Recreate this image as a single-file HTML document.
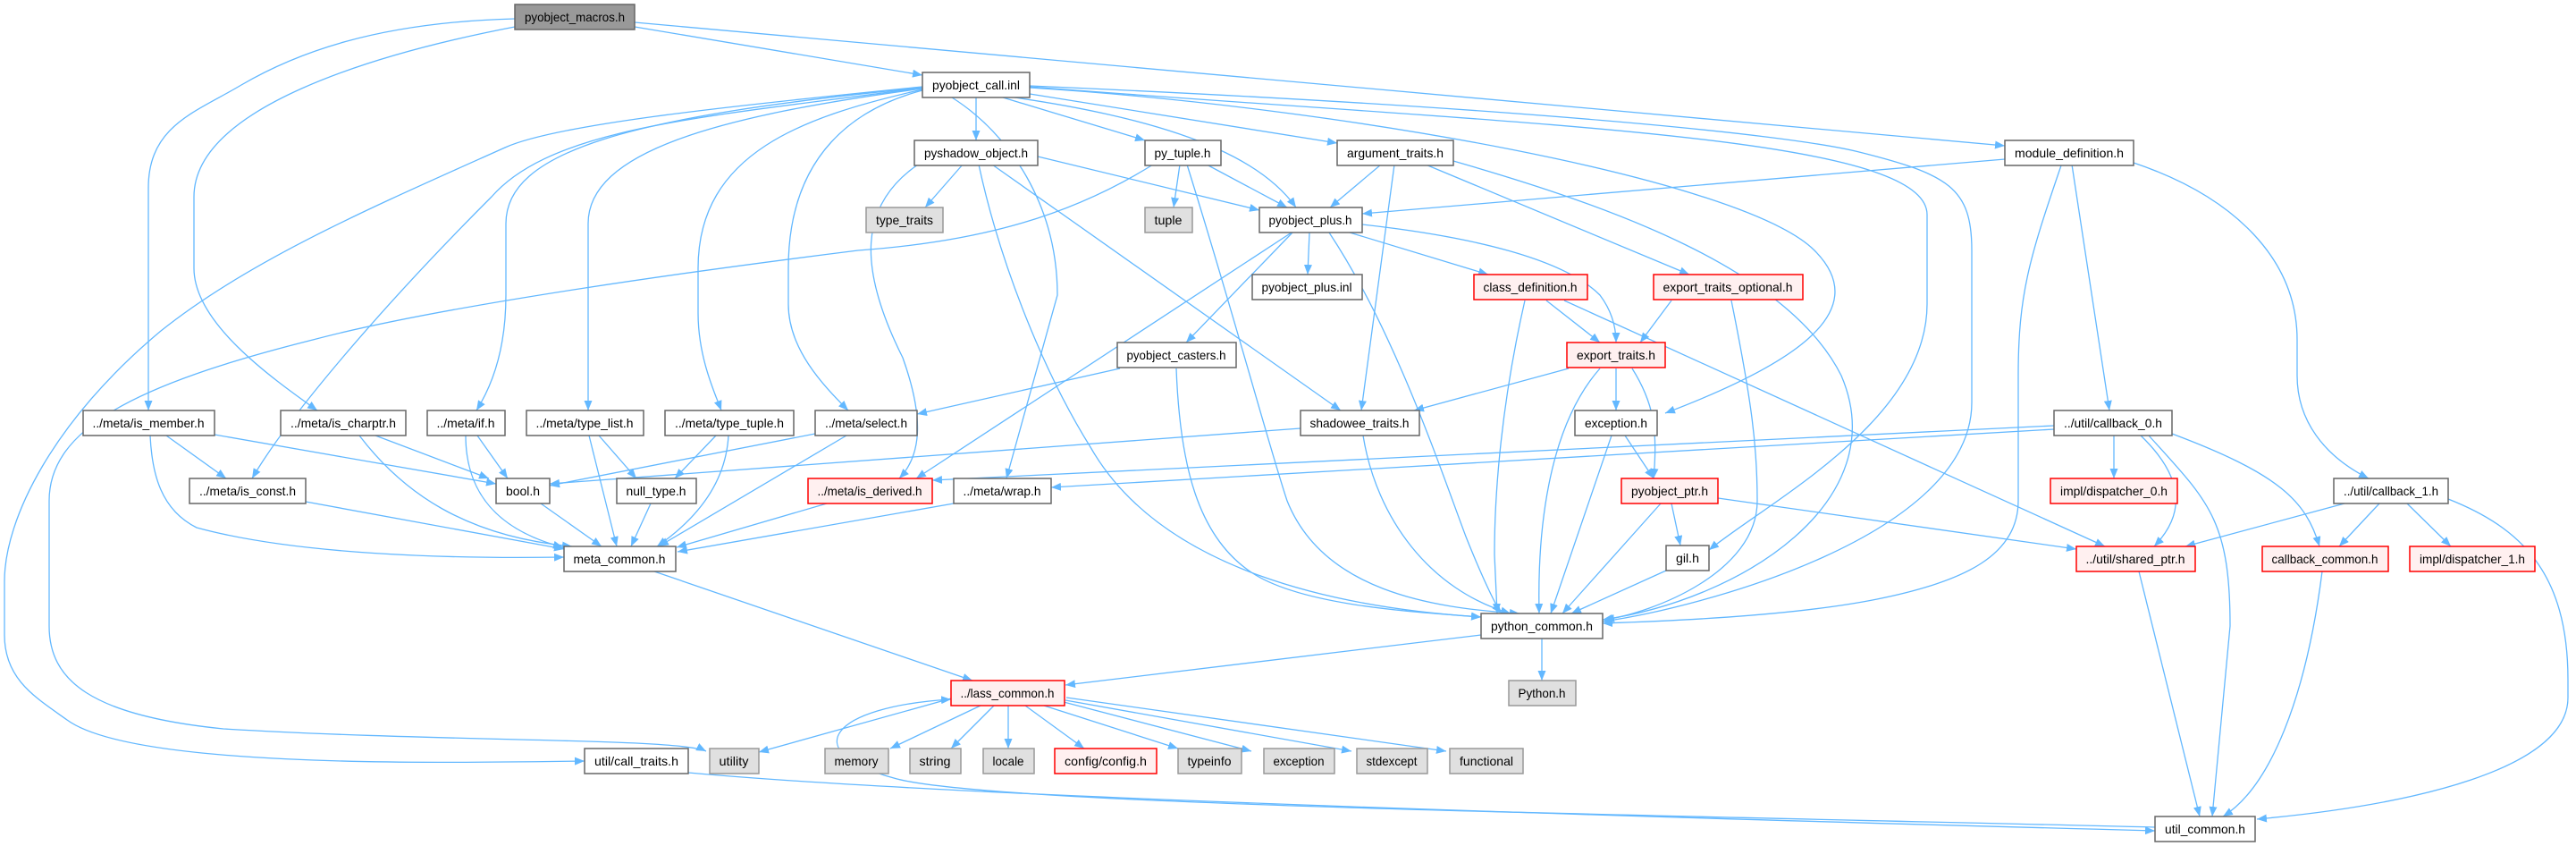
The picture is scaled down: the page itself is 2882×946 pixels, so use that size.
<!DOCTYPE html>
<html><head><meta charset="utf-8"><style>
html,body{margin:0;padding:0;background:#fff;}
svg{display:block}
text{font-family:"Liberation Sans",sans-serif;font-size:14px;fill:#000}
.e{fill:none;stroke:#63b8ff;stroke-width:1.3}
.n rect{fill:#fff;stroke:#666;stroke-width:1.5}
.g rect{fill:#e0e0e0;stroke:#999;stroke-width:1.5}
.r rect{fill:#fff0f0;stroke:#f00;stroke-width:1.5}
.m rect{fill:#999;stroke:#666;stroke-width:1.5}
</style></head><body>
<svg width="2882" height="946" viewBox="0 0 2882 946" xmlns="http://www.w3.org/2000/svg">
<defs><marker id="a" markerUnits="userSpaceOnUse" markerWidth="12" markerHeight="9" refX="11" refY="4.5" orient="auto"><path d="M0,0 L11,4.5 L0,9 z" fill="#63b8ff"/></marker></defs>
<g class="e" marker-end="url(#a)">
<!-- pyobject_macros -->
<path d="M710,30 L1032,84"/>
<path d="M710,25 L2243,163"/>
<path d="M576,21 C420,25 330,60 270,95 C220,125 166,140 166,210 L166,459"/>
<path d="M576,30 C420,60 217,120 217,220 L217,300 C217,360 300,420 355,459"/>
<!-- pyobject_call -->
<path d="M1092,109 L1092,157"/>
<path d="M1122,109 L1281,157"/>
<path d="M1152,105 L1496,160"/>
<path d="M1135,109 C1350,140 1420,190 1450,232"/>
<path d="M1152,98 C1500,120 1950,200 2030,280 C2100,350 2000,410 1863,462"/>
<path d="M1152,97 C1700,140 2156,150 2156,240 L2156,340 C2156,470 1980,560 1912,615"/>
<path d="M1152,96 C1700,120 2000,150 2080,170 C2180,195 2206,210 2206,280 L2206,450 C2206,600 1900,680 1793,695"/>
<path d="M1065,109 C1130,150 1183,230 1183,330 L1126,535"/>
<path d="M1032,101 C960,120 882,170 882,300 L882,340 C882,390 920,430 949,459"/>
<path d="M1032,100 C900,130 781,170 781,300 L781,350 C781,400 800,440 807,459"/>
<path d="M1032,99 C800,130 658,170 658,250 L658,459"/>
<path d="M1032,98 C700,130 566,170 566,250 L566,330 C566,400 545,440 533,459"/>
<path d="M1032,98 C800,130 620,140 550,220 C420,350 320,470 282,535"/>
<path d="M1032,97 C800,120 620,140 565,165 C420,230 280,290 180,370 C60,470 5,580 5,650 L5,710 C5,760 40,780 75,805 C150,860 500,853 654,851"/>
<!-- py_tuple -->
<path d="M1320,184 L1313,232"/>
<path d="M1350,184 L1440,232"/>
<path d="M1328,184 C1380,350 1420,500 1440,560 C1480,660 1600,680 1700,686"/>
<path d="M1290,184 C1200,240 1100,270 960,280 C800,300 500,340 350,380 C150,430 55,480 55,560 L55,700 C55,760 100,800 250,815 C500,830 760,825 790,840"/>
<!-- pyshadow_object -->
<path d="M1077,184 L1035,232"/>
<path d="M1161,175 L1409,235"/>
<path d="M1110,184 L1500,459"/>
<path d="M1027,184 C960,230 960,300 1010,400 C1035,470 1030,510 1006,535"/>
<path d="M1095,184 C1120,300 1170,420 1220,500 C1300,640 1500,680 1657,690"/>
<!-- argument_traits -->
<path d="M1545,184 L1488,232"/>
<path d="M1560,184 L1523,459"/>
<path d="M1595,184 L1890,307"/>
<path d="M1626,180 C1800,230 2000,300 2060,420 C2120,560 1950,670 1793,693"/>
<!-- module_definition -->
<path d="M2243,178 L1524,239"/>
<path d="M2306,185 C2270,290 2258,330 2258,420 L2258,560 C2258,620 2200,650 2100,670 C2000,690 1850,695 1793,697"/>
<path d="M2318,184 L2360,459"/>
<path d="M2387,182 C2500,220 2570,290 2570,380 L2570,420 C2570,470 2600,510 2650,535"/>
<!-- pyobject_plus -->
<path d="M1465,260 L1463,307"/>
<path d="M1510,260 L1665,307"/>
<path d="M1524,251 C1650,265 1750,290 1790,330 C1805,350 1808,370 1808,383"/>
<path d="M1446,260 L1327,383"/>
<path d="M1445,260 L1025,535"/>
<path d="M1487,260 C1560,370 1610,520 1640,600 C1660,650 1675,680 1680,686"/>
<!-- class_definition -->
<path d="M1730,336 L1790,383"/>
<path d="M1706,336 C1680,450 1672,550 1672,620 L1675,686"/>
<path d="M1750,336 L2355,611"/>
<!-- export_traits_optional -->
<path d="M1870,336 L1835,383"/>
<path d="M1937,336 C1960,450 1966,500 1966,560 C1966,640 1850,685 1795,693"/>
<!-- export_traits -->
<path d="M1755,412 L1582,459"/>
<path d="M1808,412 L1808,459"/>
<path d="M1826,412 C1850,450 1855,480 1850,535"/>
<path d="M1790,412 C1730,480 1720,600 1722,686"/>
<!-- casters -->
<path d="M1253,412 L1026,463"/>
<path d="M1316,412 C1320,520 1340,600 1400,640 C1460,680 1600,685 1657,690"/>
<!-- shadowee -->
<path d="M1455,479 L615,541"/>
<path d="M1525,487 C1540,580 1600,660 1690,686"/>
<!-- exception -->
<path d="M1818,487 L1850,535"/>
<path d="M1803,487 L1735,686"/>
<!-- pyobject_ptr -->
<path d="M1870,563 L1880,610"/>
<path d="M1858,563 L1748,686"/>
<path d="M1922,557 L2323,614"/>
<!-- gil -->
<path d="M1864,638 L1758,686"/>
<!-- callback_0 -->
<path d="M2298,476 L1043,537"/>
<path d="M2298,480 L1176,545"/>
<path d="M2365,487 L2365,535"/>
<path d="M2395,487 C2450,540 2440,580 2410,611"/>
<path d="M2404,487 C2470,560 2495,580 2495,700 L2475,913"/>
<path d="M2430,485 C2550,530 2580,560 2595,611"/>
<!-- callback_1 -->
<path d="M2623,563 L2445,611"/>
<path d="M2662,563 L2617,611"/>
<path d="M2693,563 L2742,611"/>
<path d="M2739,558 C2820,590 2873,640 2873,760 L2873,780 C2873,860 2700,900 2525,916"/>
<!-- shared_ptr/callback_common -> util_common -->
<path d="M2393,639 L2461,913"/>
<path d="M2598,639 C2580,780 2540,880 2487,913"/>
<!-- meta -->
<path d="M186,487 L253,535"/>
<path d="M240,486 L555,541"/>
<path d="M168,487 C170,530 180,570 220,590 C330,620 500,625 631,623"/>
<path d="M420,487 L547,535"/>
<path d="M402,487 C450,550 520,600 640,611"/>
<path d="M534,487 L568,535"/>
<path d="M521,487 C521,540 545,590 630,612"/>
<path d="M670,487 L712,535"/>
<path d="M659,487 L690,611"/>
<path d="M801,487 L755,535"/>
<path d="M815,487 C812,540 780,580 735,611"/>
<path d="M912,485 L615,543"/>
<path d="M947,487 L737,611"/>
<path d="M342,561 L631,614"/>
<path d="M605,563 L673,611"/>
<path d="M728,563 L706,611"/>
<path d="M925,563 L757,612"/>
<path d="M1067,563 L758,617"/>
<path d="M732,639 L1088,761"/>
<!-- python_common -->
<path d="M1657,710 L1192,766"/>
<path d="M1725,714 L1725,761"/>
<!-- lass_common -->
<path d="M1097,789 L996,837"/>
<path d="M1112,789 L1064,837"/>
<path d="M1128,789 L1128,837"/>
<path d="M1147,789 L1213,837"/>
<path d="M1168,789 L1318,837"/>
<path d="M1190,785 L1400,840"/>
<path d="M1192,783 L1512,840"/>
<path d="M1193,780 L1618,840"/>
<path d="M1064,781 L849,841"/>
<!-- call_traits / util_common -->
<path d="M770,864 C1000,885 1500,905 2411,929"/>
<path d="M2411,925 C1800,910 1100,900 1000,870 C890,840 930,790 1064,782"/>
</g>
<g class="m"><rect x="576" y="5" width="134" height="28"/><text x="643" y="24" text-anchor="middle" textLength="112" lengthAdjust="spacingAndGlyphs">pyobject_macros.h</text></g>
<g class="n"><rect x="1032" y="81" width="120" height="28"/><text x="1092" y="100" text-anchor="middle" textLength="98" lengthAdjust="spacingAndGlyphs">pyobject_call.inl</text></g>
<g class="n"><rect x="1023" y="157" width="138" height="28"/><text x="1092" y="176" text-anchor="middle" textLength="116" lengthAdjust="spacingAndGlyphs">pyshadow_object.h</text></g>
<g class="n"><rect x="1281" y="157" width="85" height="28"/><text x="1323" y="176" text-anchor="middle" textLength="63" lengthAdjust="spacingAndGlyphs">py_tuple.h</text></g>
<g class="n"><rect x="1496" y="157" width="130" height="28"/><text x="1561" y="176" text-anchor="middle" textLength="108" lengthAdjust="spacingAndGlyphs">argument_traits.h</text></g>
<g class="n"><rect x="2243" y="157" width="144" height="28"/><text x="2315" y="176" text-anchor="middle" textLength="122" lengthAdjust="spacingAndGlyphs">module_definition.h</text></g>
<g class="g"><rect x="969" y="232" width="86" height="28"/><text x="1012" y="251" text-anchor="middle" textLength="64" lengthAdjust="spacingAndGlyphs">type_traits</text></g>
<g class="g"><rect x="1281" y="232" width="53" height="28"/><text x="1307" y="251" text-anchor="middle" textLength="31" lengthAdjust="spacingAndGlyphs">tuple</text></g>
<g class="n"><rect x="1409" y="232" width="115" height="28"/><text x="1466" y="251" text-anchor="middle" textLength="93" lengthAdjust="spacingAndGlyphs">pyobject_plus.h</text></g>
<g class="n"><rect x="1401" y="307" width="123" height="28"/><text x="1462" y="326" text-anchor="middle" textLength="101" lengthAdjust="spacingAndGlyphs">pyobject_plus.inl</text></g>
<g class="r"><rect x="1649" y="307" width="127" height="28"/><text x="1712" y="326" text-anchor="middle" textLength="105" lengthAdjust="spacingAndGlyphs">class_definition.h</text></g>
<g class="r"><rect x="1850" y="307" width="167" height="28"/><text x="1933" y="326" text-anchor="middle" textLength="145" lengthAdjust="spacingAndGlyphs">export_traits_optional.h</text></g>
<g class="n"><rect x="1250" y="383" width="133" height="28"/><text x="1316" y="402" text-anchor="middle" textLength="111" lengthAdjust="spacingAndGlyphs">pyobject_casters.h</text></g>
<g class="r"><rect x="1753" y="383" width="110" height="28"/><text x="1808" y="402" text-anchor="middle" textLength="88" lengthAdjust="spacingAndGlyphs">export_traits.h</text></g>
<g class="n"><rect x="93" y="459" width="147" height="28"/><text x="166" y="478" text-anchor="middle" textLength="125" lengthAdjust="spacingAndGlyphs">../meta/is_member.h</text></g>
<g class="n"><rect x="314" y="459" width="140" height="28"/><text x="384" y="478" text-anchor="middle" textLength="118" lengthAdjust="spacingAndGlyphs">../meta/is_charptr.h</text></g>
<g class="n"><rect x="478" y="459" width="87" height="28"/><text x="521" y="478" text-anchor="middle" textLength="65" lengthAdjust="spacingAndGlyphs">../meta/if.h</text></g>
<g class="n"><rect x="589" y="459" width="131" height="28"/><text x="654" y="478" text-anchor="middle" textLength="109" lengthAdjust="spacingAndGlyphs">../meta/type_list.h</text></g>
<g class="n"><rect x="744" y="459" width="144" height="28"/><text x="816" y="478" text-anchor="middle" textLength="122" lengthAdjust="spacingAndGlyphs">../meta/type_tuple.h</text></g>
<g class="n"><rect x="912" y="459" width="114" height="28"/><text x="969" y="478" text-anchor="middle" textLength="92" lengthAdjust="spacingAndGlyphs">../meta/select.h</text></g>
<g class="n"><rect x="1455" y="459" width="133" height="28"/><text x="1521" y="478" text-anchor="middle" textLength="111" lengthAdjust="spacingAndGlyphs">shadowee_traits.h</text></g>
<g class="n"><rect x="1762" y="459" width="92" height="28"/><text x="1808" y="478" text-anchor="middle" textLength="70" lengthAdjust="spacingAndGlyphs">exception.h</text></g>
<g class="n"><rect x="2298" y="459" width="132" height="28"/><text x="2364" y="478" text-anchor="middle" textLength="110" lengthAdjust="spacingAndGlyphs">../util/callback_0.h</text></g>
<g class="n"><rect x="212" y="535" width="130" height="28"/><text x="277" y="554" text-anchor="middle" textLength="108" lengthAdjust="spacingAndGlyphs">../meta/is_const.h</text></g>
<g class="n"><rect x="555" y="535" width="60" height="28"/><text x="585" y="554" text-anchor="middle" textLength="38" lengthAdjust="spacingAndGlyphs">bool.h</text></g>
<g class="n"><rect x="690" y="535" width="89" height="28"/><text x="734" y="554" text-anchor="middle" textLength="67" lengthAdjust="spacingAndGlyphs">null_type.h</text></g>
<g class="r"><rect x="904" y="535" width="139" height="28"/><text x="973" y="554" text-anchor="middle" textLength="117" lengthAdjust="spacingAndGlyphs">../meta/is_derived.h</text></g>
<g class="n"><rect x="1067" y="535" width="109" height="28"/><text x="1121" y="554" text-anchor="middle" textLength="87" lengthAdjust="spacingAndGlyphs">../meta/wrap.h</text></g>
<g class="r"><rect x="1814" y="535" width="108" height="28"/><text x="1868" y="554" text-anchor="middle" textLength="86" lengthAdjust="spacingAndGlyphs">pyobject_ptr.h</text></g>
<g class="r"><rect x="2294" y="535" width="142" height="28"/><text x="2365" y="554" text-anchor="middle" textLength="120" lengthAdjust="spacingAndGlyphs">impl/dispatcher_0.h</text></g>
<g class="n"><rect x="2611" y="535" width="128" height="28"/><text x="2675" y="554" text-anchor="middle" textLength="106" lengthAdjust="spacingAndGlyphs">../util/callback_1.h</text></g>
<g class="n"><rect x="631" y="611" width="125" height="28"/><text x="693" y="630" text-anchor="middle" textLength="103" lengthAdjust="spacingAndGlyphs">meta_common.h</text></g>
<g class="n"><rect x="1864" y="610" width="48" height="28"/><text x="1888" y="629" text-anchor="middle" textLength="26" lengthAdjust="spacingAndGlyphs">gil.h</text></g>
<g class="r"><rect x="2323" y="611" width="133" height="28"/><text x="2389" y="630" text-anchor="middle" textLength="111" lengthAdjust="spacingAndGlyphs">../util/shared_ptr.h</text></g>
<g class="r"><rect x="2531" y="611" width="141" height="28"/><text x="2601" y="630" text-anchor="middle" textLength="119" lengthAdjust="spacingAndGlyphs">callback_common.h</text></g>
<g class="r"><rect x="2696" y="611" width="140" height="28"/><text x="2766" y="630" text-anchor="middle" textLength="118" lengthAdjust="spacingAndGlyphs">impl/dispatcher_1.h</text></g>
<g class="n"><rect x="1657" y="686" width="136" height="28"/><text x="1725" y="705" text-anchor="middle" textLength="114" lengthAdjust="spacingAndGlyphs">python_common.h</text></g>
<g class="r"><rect x="1064" y="761" width="127" height="28"/><text x="1127" y="780" text-anchor="middle" textLength="105" lengthAdjust="spacingAndGlyphs">../lass_common.h</text></g>
<g class="g"><rect x="1688" y="761" width="75" height="28"/><text x="1725" y="780" text-anchor="middle" textLength="53" lengthAdjust="spacingAndGlyphs">Python.h</text></g>
<g class="n"><rect x="654" y="837" width="116" height="28"/><text x="712" y="856" text-anchor="middle" textLength="94" lengthAdjust="spacingAndGlyphs">util/call_traits.h</text></g>
<g class="g"><rect x="794" y="837" width="55" height="28"/><text x="821" y="856" text-anchor="middle" textLength="33" lengthAdjust="spacingAndGlyphs">utility</text></g>
<g class="g"><rect x="923" y="837" width="71" height="28"/><text x="958" y="856" text-anchor="middle" textLength="49" lengthAdjust="spacingAndGlyphs">memory</text></g>
<g class="g"><rect x="1018" y="837" width="57" height="28"/><text x="1046" y="856" text-anchor="middle" textLength="35" lengthAdjust="spacingAndGlyphs">string</text></g>
<g class="g"><rect x="1100" y="837" width="57" height="28"/><text x="1128" y="856" text-anchor="middle" textLength="35" lengthAdjust="spacingAndGlyphs">locale</text></g>
<g class="r"><rect x="1180" y="837" width="114" height="28"/><text x="1237" y="856" text-anchor="middle" textLength="92" lengthAdjust="spacingAndGlyphs">config/config.h</text></g>
<g class="g"><rect x="1318" y="837" width="71" height="28"/><text x="1353" y="856" text-anchor="middle" textLength="49" lengthAdjust="spacingAndGlyphs">typeinfo</text></g>
<g class="g"><rect x="1414" y="837" width="79" height="28"/><text x="1453" y="856" text-anchor="middle" textLength="57" lengthAdjust="spacingAndGlyphs">exception</text></g>
<g class="g"><rect x="1518" y="837" width="79" height="28"/><text x="1557" y="856" text-anchor="middle" textLength="57" lengthAdjust="spacingAndGlyphs">stdexcept</text></g>
<g class="g"><rect x="1622" y="837" width="82" height="28"/><text x="1663" y="856" text-anchor="middle" textLength="60" lengthAdjust="spacingAndGlyphs">functional</text></g>
<g class="n"><rect x="2411" y="913" width="112" height="28"/><text x="2467" y="932" text-anchor="middle" textLength="90" lengthAdjust="spacingAndGlyphs">util_common.h</text></g>
</svg>
</body></html>
